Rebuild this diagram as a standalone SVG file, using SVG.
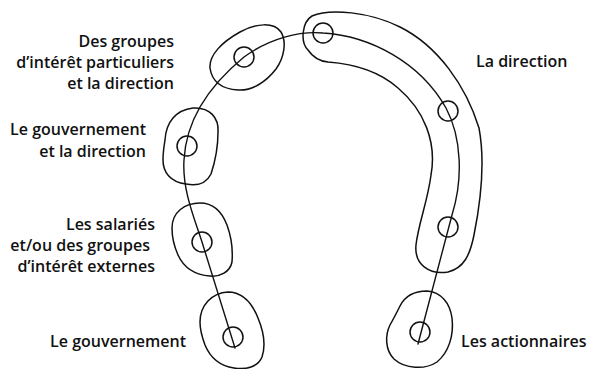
<svg xmlns="http://www.w3.org/2000/svg" width="591" height="369" viewBox="0 0 591 369">
  <style>
    .blob { fill: none; stroke: #111; stroke-width: 1.5; stroke-linejoin: round; }
    .dot { fill: none; stroke: #111; stroke-width: 1.5; }
    .track { fill: none; stroke: #111; stroke-width: 1.4; stroke-linecap: round; }
    .lbl { font-family: "Open Sans", "Liberation Sans", sans-serif; font-size: 16px; font-weight: 600; fill: #111; }
    .l { text-anchor: end; }
  </style>
  <rect width="591" height="369" fill="#fff"/>

  <!-- horseshoe path linking all stakeholders -->
  <g id="connectors">
    <path class="track" d="M 235,348 L 202,242 C 195,220 182,190 184,160 C 186,120 210,85 244,57 C 270,38 300,31 323,33 C 370,36 420,62 446,108 C 462,138 463,180 452,215 L 418,344"/>
  </g>

  <!-- groups of stakeholders -->
  <g id="gouvernement">
    <path class="blob" d="M 200,322 C 200,305 212,293 228,292 C 242,292 252,303 258,318 C 263,330 266,345 262,357 C 258,367 246,370 234,368 C 220,366 210,357 205,345 C 202,337 200,330 200,322 Z"/>
    <circle class="dot" cx="233" cy="337" r="10"/>
    <text class="lbl l" x="186" y="347">Le gouvernement</text>
  </g>

  <g id="salaries">
    <path class="blob" d="M 172,228 C 172,212 185,203 200,203 C 213,203 222,212 227,225 C 231,236 233,250 232,262 C 230,272 220,277 210,276 C 196,275 184,268 178,255 C 174,246 172,237 172,228 Z"/>
    <circle class="dot" cx="202" cy="242" r="10"/>
    <text class="lbl l" x="155" y="230">Les salariés</text>
    <text class="lbl l" x="150" y="251">et/ou des groupes</text>
    <text class="lbl l" x="155" y="272">d’intérêt externes</text>
  </g>

  <g id="gouvernement-direction">
    <path class="blob" d="M 165,140 C 166,122 176,110 193,108 C 210,107 219,118 218,132 C 218,148 214,165 211,174 C 206,184 196,186 186,184 C 170,182 163,172 163,160 C 163,153 164,146 165,140 Z"/>
    <circle class="dot" cx="187" cy="146" r="10"/>
    <text class="lbl l" x="146" y="135">Le gouvernement</text>
    <text class="lbl l" x="146" y="157">et la direction</text>
  </g>

  <g id="groupes-direction">
    <path class="blob" d="M 210,68 C 209,55 222,42 240,32 C 256,23 274,22 281,32 C 287,42 284,58 276,69 C 266,82 252,91 238,90 C 222,89 212,82 210,68 Z"/>
    <circle class="dot" cx="244" cy="57" r="10"/>
    <text class="lbl l" x="174" y="47">Des groupes</text>
    <text class="lbl l" x="174" y="68">d’intérêt particuliers</text>
    <text class="lbl l" x="174" y="89">et la direction</text>
  </g>

  <g id="direction">
    <path class="blob" d="M 308,50 C 300,42 302,22 312,16 C 330,8 370,12 400,27 C 438,46 466,86 479,128 C 485,160 482,195 474,235 C 470,255 464,268 448,272 C 430,275 414,265 416,245 C 418,225 428,200 431,175 C 437,142 424,110 398,88 C 380,72 355,64 328,62 C 318,61 312,56 308,50 Z"/>
    <circle class="dot" cx="323" cy="33" r="10"/>
    <circle class="dot" cx="448" cy="111" r="10"/>
    <circle class="dot" cx="448" cy="227" r="10"/>
    <text class="lbl" x="476" y="67">La direction</text>
  </g>

  <g id="actionnaires">
    <path class="blob" d="M 400,306 C 405,296 414,291 427,291 C 441,292 450,303 452,318 C 454,335 449,352 437,362 C 425,370 405,369 394,359 C 385,350 385,335 390,325 C 394,318 397,312 400,306 Z"/>
    <circle class="dot" cx="420" cy="332" r="10"/>
    <text class="lbl" x="461" y="347">Les actionnaires</text>
  </g>
</svg>
